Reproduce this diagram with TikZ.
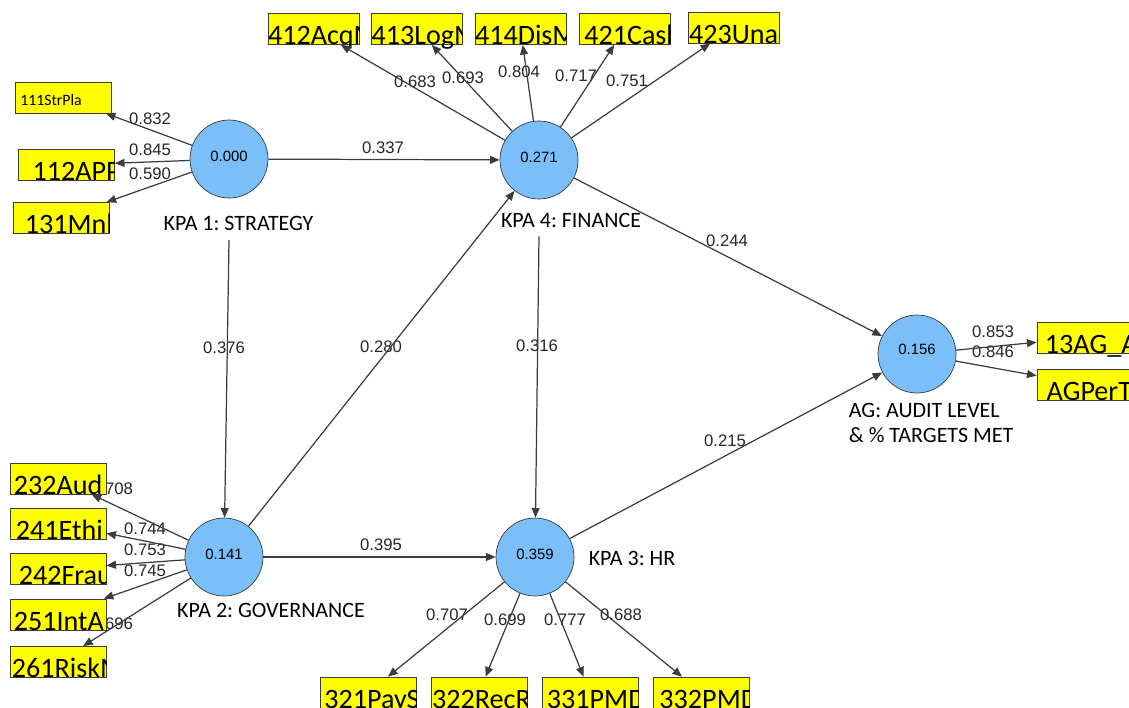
\documentclass[tikz,border=0pt]{standalone}
\usepackage{fontspec}
\setmainfont{Liberation Sans}
\newfontfamily\calfont{Carlito}
\usetikzlibrary{arrows.meta}
\definecolor{plsblue}{RGB}{122,190,250}
\definecolor{plsyellow}{RGB}{255,255,0}
\definecolor{plsline}{RGB}{60,60,60}
\frenchspacing
% indicator label, cut at the right edge of its box
\newcommand\mvlabel[3]{%
  \begin{scope}
    \clip ([yshift=-8pt]#1.south west) rectangle (#1.north east);
    \node[mvtxt] at ([xshift=#3]#1.south west) {#2};
  \end{scope}}

\begin{document}
\begin{tikzpicture}[x=0.02cm,y=-0.02cm,
  lv/.style={circle,draw=plsline,fill=plsblue,minimum size=1.56cm,inner sep=0pt,font=\fontsize{8.5}{10}\selectfont},
  mv/.style={draw=plsline,fill=plsyellow,minimum width=1.92cm,minimum height=0.62cm,inner sep=0pt},
  mvtxt/.style={anchor=base west,inner sep=0pt,font=\calfont\fontsize{16}{16}\selectfont},
  load/.style={-{Triangle[length=5.5pt,width=4.5pt]},draw=plsline,line width=0.7pt},
  coef/.style={font=\fontsize{9.5}{11}\selectfont,text=black!85,inner sep=1pt},
  lvname/.style={font=\calfont\fontsize{12.5}{14.2}\selectfont,inner sep=2pt}]
  \useasboundingbox (0,0) rectangle (1129,707);
  % constructs
  \node[lv] (strat) at (229,159) {\raisebox{3pt}{0.000}};
  \node[lv] (fin) at (539,160) {\raisebox{3pt}{0.271}};
  \node[lv] (gov) at (224,557) {\raisebox{3pt}{0.141}};
  \node[lv] (hr) at (535,557) {\raisebox{3pt}{0.359}};
  \node[lv] (ag) at (917,354) {\raisebox{5pt}{0.156}};
  % construct names
  \node[lvname,anchor=base,inner ysep=5.5pt] (nstrat) at (238.5,230) {KPA 1: STRATEGY};
  \node[lvname,anchor=base,inner ysep=5pt] (nfin) at (571,227) {KPA 4: FINANCE};
  \node[lvname,anchor=base] (ngov) at (271,617) {KPA 2: GOVERNANCE};
  \node[lvname,anchor=base] (nhr) at (632,565) {KPA 3: HR};
  \node[lvname,anchor=base west,align=left] (nag) at (845,442) {AG: AUDIT LEVEL\\\& \% TARGETS MET};
  % outer loadings
  \node[coef] (l111) at (150,119) {0.832};
  \node[coef] (l112) at (150,150) {0.845};
  \node[coef] (l131) at (150,174) {0.590};
  \node[coef] (l412) at (415,82) {0.683};
  \node[coef] (l413) at (463,78) {0.693};
  \node[coef] (l414) at (519,72) {0.804};
  \node[coef] (l421) at (576,76) {0.717};
  \node[coef] (l423) at (627,81) {0.751};
  \node[coef] (l232) at (112,489) {0.708};
  \node[coef] (l241) at (145,529) {0.744};
  \node[coef] (l242) at (145,550) {0.753};
  \node[coef] (l251) at (145,571) {0.745};
  \node[coef] (l261) at (112,624) {0.696};
  \node[coef] (l321) at (447,615) {0.707};
  \node[coef] (l322) at (505,620) {0.699};
  \node[coef] (l331) at (565,620) {0.777};
  \node[coef] (l332) at (621,615) {0.688};
  \node[coef] (l13ag) at (993,332) {0.853};
  \node[coef] (lagper) at (993,352) {0.846};
  % path coefficients
  \node[coef] (p14) at (383,148) {0.337};
  \node[coef] (p12) at (224,348) {0.376};
  \node[coef] (p24) at (381,347) {0.280};
  \node[coef] (p43) at (537,346) {0.316};
  \node[coef] (p23) at (381,545) {0.395};
  \node[coef] (p4ag) at (727,241) {0.244};
  \node[coef] (p3ag) at (725,441) {0.215};
  % indicators
  \node[mv] (i111) at (63,97.5) {};
  \node[mv] (i112) at (66.5,165) {};
  \node[mv] (i131) at (61.5,218) {};
  \node[mv,minimum width=1.82cm] (i412) at (313.5,29) {};
  \node[mv,minimum width=1.82cm] (i413) at (417,29) {};
  \node[mv,minimum width=1.82cm] (i414) at (520.5,29) {};
  \node[mv,minimum width=1.82cm] (i421) at (624.5,29) {};
  \node[mv,minimum width=1.82cm] (i423) at (733.5,27.5) {};
  \node[mv] (i232) at (58,478.5) {};
  \node[mv] (i241) at (58,523.5) {};
  \node[mv] (i242) at (58,569) {};
  \node[mv] (i251) at (58,614.5) {};
  \node[mv] (i261) at (58,662) {};
  \node[mv] (i321) at (368.5,692.5) {};
  \node[mv] (i322) at (479,692.5) {};
  \node[mv] (i331) at (590,692.5) {};
  \node[mv] (i332) at (701.5,692.5) {};
  \node[mv] (i13ag) at (1085,337.5) {};
  \node[mv] (iagper) at (1085,384.5) {};
  \mvlabel{i111}{\fontsize{9}{9}\selectfont\raisebox{4.5pt}{111StrPla}}{3pt}
  \mvlabel{i112}{112APP}{8pt}
  \mvlabel{i131}{131Mnl}{6.5pt}
  \mvlabel{i412}{412AcqM}{0pt}
  \mvlabel{i413}{413LogM}{0pt}
  \mvlabel{i414}{414DisM}{0pt}
  \mvlabel{i421}{421Cash}{3pt}
  \mvlabel{i423}{423Unau}{0.6pt}
  \mvlabel{i232}{232Aud}{2.2pt}
  \mvlabel{i241}{241Ethi}{3.4pt}
  \mvlabel{i242}{242Frau}{5pt}
  \mvlabel{i251}{251IntA}{2.2pt}
  \mvlabel{i261}{261RiskM}{1.1pt}
  \mvlabel{i321}{321PayS}{2.2pt}
  \mvlabel{i322}{322RecR}{0.6pt}
  \mvlabel{i331}{331PMD}{2.8pt}
  \mvlabel{i332}{332PMD}{3.4pt}
  \mvlabel{i13ag}{13AG\_A}{4.5pt}
  \mvlabel{iagper}{AGPerT}{5.5pt}
  % loadings arrows
  \foreach \m in {i111,i112,i131} \draw[load] (strat) -- (\m);
  \foreach \m in {i412,i413,i414,i421,i423} \draw[load] (fin) -- (\m);
  \foreach \m in {i232,i241,i242,i251,i261} \draw[load] (gov) -- (\m);
  \foreach \m in {i321,i322,i331,i332} \draw[load] (hr) -- (\m);
  \foreach \m in {i13ag,iagper} \draw[load] (ag) -- (\m);
  % inner model
  \draw[load] (strat) -- (fin);
  \draw[load] (strat |- nstrat.south) -- (gov);
  \draw[load] (gov) -- (fin);
  \draw[load] (gov) -- (hr);
  \draw[load] (fin |- nfin.south) -- (hr);
  \draw[load] (fin) -- (ag);
  \draw[load] (hr) -- (ag);
\end{tikzpicture}
\end{document}
